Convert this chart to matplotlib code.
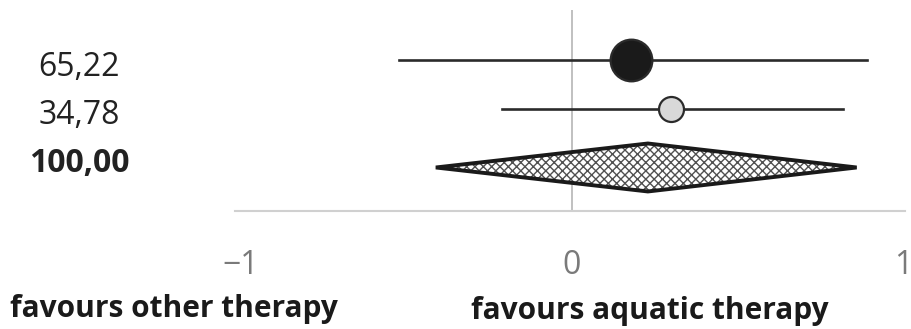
import matplotlib

matplotlib.use("Agg")
import matplotlib.pyplot as plt
from matplotlib.patches import Polygon

plt.rcParams["font.family"] = ["Open Sans", "DejaVu Sans"]

# study rows: weight label, point estimate, lower / upper CI
weights = ["65,22", "34,78"]
estimates = [0.18, 0.30]
ci_low = [-0.52, -0.21]
ci_high = [0.89, 0.82]
marker_faces = ["#1a1a1a", "#d9d9d9"]
marker_sizes = [30, 18]

# pooled estimate (diamond)
pooled_weight = "100,00"
pooled_est = 0.23
pooled_low = -0.41
pooled_high = 0.86

ticks = [-1, 0, 1]
tick_labels = ["\u22121", "0", "1"]

row_y = [0.0, 1.0]
pooled_y = 2.2

fig = plt.figure(figsize=(9.12, 3.29), dpi=100)
ax = fig.add_axes([0.258, 0.36, 0.734, 0.61])

ax.axvline(0, color="#c0c0c0", lw=1.4, zorder=1)

for y, est, lo, hi, fc, ms in zip(row_y, estimates, ci_low, ci_high, marker_faces, marker_sizes):
    ax.plot([lo, hi], [y, y], color="#2b2b2b", lw=1.9, zorder=2)
    ax.plot(est, y, "o", ms=ms, mfc=fc, mec="#2b2b2b", mew=1.6, zorder=3)

half_h = 0.49
verts = [
    (pooled_low, pooled_y),
    (pooled_est, pooled_y - half_h),
    (pooled_high, pooled_y),
    (pooled_est, pooled_y + half_h),
]
ax.add_patch(Polygon(verts, closed=True, facecolor="white", edgecolor="#505050",
                     hatch="xxxx", lw=0, zorder=3))
ax.add_patch(Polygon(verts, closed=True, fill=False, edgecolor="#1a1a1a",
                     lw=2.8, joinstyle="miter", zorder=4))

ax.set_xlim(-1.015, 1.005)
ax.set_ylim(3.08, -1.02)
for side in ["top", "left", "right"]:
    ax.spines[side].set_visible(False)
ax.spines["bottom"].set_color("#d0d0d0")
ax.spines["bottom"].set_linewidth(1.5)
ax.set_yticks([])
ax.set_xticks(ticks)
ax.set_xticklabels(tick_labels, fontsize=23, color="#7a7a7a")
ax.tick_params(axis="x", length=0, pad=28)

# weight column to the left of the plot
label_x = 79 / 912
for txt, ypix, bold in [(weights[0], 68, False), (weights[1], 115, False),
                        (pooled_weight, 163, True)]:
    fig.text(label_x, 1 - ypix / 329, txt, ha="center", va="center", fontsize=23,
             color="#222222", fontweight="bold" if bold else "normal")

fig.text(174 / 912, 1 - 309 / 329, "favours other therapy", ha="center", va="center",
         fontsize=21.5, fontweight="bold", color="#1a1a1a")
fig.text(650 / 912, 1 - 311 / 329, "favours aquatic therapy", ha="center", va="center",
         fontsize=21.5, fontweight="bold", color="#1a1a1a")

fig.savefig("out.png", dpi=100)
